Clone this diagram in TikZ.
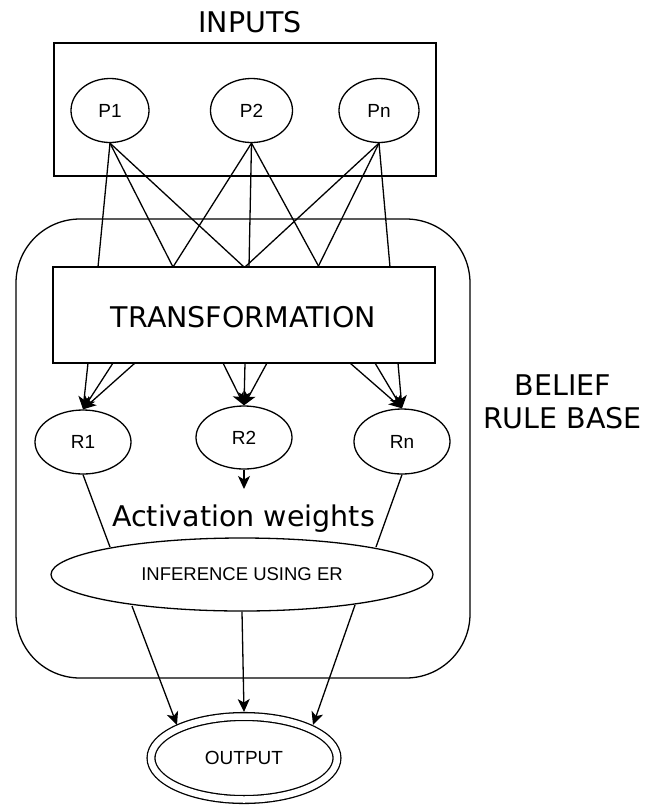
\documentclass[tikz,border=0pt]{standalone}
\usepackage{fontspec}
\setmainfont{Liberation Sans}
\newfontfamily\vfont{DejaVu Sans}
\usetikzlibrary{arrows.meta,shapes.geometric}
\begin{document}
\begin{tikzpicture}[x=1pt,y=-1pt,line width=1.3pt,
  ell/.style={draw,ellipse,inner sep=0pt,font=\fontsize{19}{21}\selectfont},
  box/.style={draw,rectangle,inner sep=0pt},
  bigtxt/.style={font=\vfont\fontsize{28.5}{33}\selectfont,inner sep=0pt,anchor=base},
  arr/.style={-{Stealth[length=13pt,width=12pt,inset=3.5pt]}}]
\useasboundingbox (0,0) rectangle (647,807);

% containers
\node[box,minimum width=382pt,minimum height=133pt] (IN) at (245,109.5) {};
\node[draw,rounded corners=64pt,minimum width=454pt,minimum height=459pt] (RBB) at (243,448.5) {};
\node[box,minimum width=382pt,minimum height=96pt] (T) at (244,315) {};

% texts
\node[bigtxt] (tin) at (250,32) {INPUTS};
\node[bigtxt] (tt) at (243.5,327) {TRANSFORMATION};
\node[bigtxt] (tb1) at (563,395) {BELIEF};
\node[bigtxt] (tb2) at (562.5,428) {RULE BASE};
\node[bigtxt] (ta) at (243.5,526) {Activation weights};

% input ellipses
\node[ell,minimum width=78pt,minimum height=64pt] (P1) at (110,110.5) {P1};
\node[ell,minimum width=82pt,minimum height=64pt] (P2) at (251.5,110.5) {P2};
\node[ell,minimum width=80pt,minimum height=64pt] (Pn) at (379,110.5) {Pn};

% rule ellipses
\node[ell,minimum width=96pt,minimum height=64pt] (R1) at (83,442) {R1};
\node[ell,minimum width=96pt,minimum height=63pt] (R2) at (244,437.5) {R2};
\node[ell,minimum width=96pt,minimum height=65pt] (Rn) at (402,441.5) {Rn};

% inference and output
\node[draw,ellipse,inner sep=0pt,minimum width=382pt,minimum height=73pt,
      font=\fontsize{18.5}{20}\selectfont] (INF) at (242,574.5) {INFERENCE USING ER};
\node[draw,ellipse,inner sep=0pt,double,double distance=6.5pt,
      minimum width=186pt,minimum height=83pt,
      font=\fontsize{19}{21}\selectfont] (OUT) at (244,758) {OUTPUT};

% coordinates on transformation top
\coordinate (a1) at (98,267);  \coordinate (a2) at (173,267); \coordinate (a3) at (244,267);
\coordinate (b1) at (173,267); \coordinate (b2) at (249,267); \coordinate (b3) at (319,267);
\coordinate (c1) at (245,267); \coordinate (c2) at (318,267); \coordinate (c3) at (390,267);
% coordinates on transformation bottom
\coordinate (d1) at (88,363);  \coordinate (d2) at (113,363); \coordinate (d3) at (135,363);
\coordinate (e1) at (223,363); \coordinate (e2) at (245,363); \coordinate (e3) at (267,363);
\coordinate (f1) at (350,363); \coordinate (f2) at (375,363); \coordinate (f3) at (398,363);
% others
\coordinate (g1) at (110,547); \coordinate (g2) at (376,547);
\coordinate (h) at (244,489);
\coordinate (i1) at (132,606); \coordinate (i3) at (355,605);
\coordinate (o1) at (177,725); \coordinate (o2) at (244,712); \coordinate (o3) at (313,725);

% input -> transformation
\foreach \t in {a1,a2,a3} \draw (P1.south) -- (\t);
\foreach \t in {b1,b2,b3} \draw (P2.south) -- (\t);
\foreach \t in {c1,c2,c3} \draw (Pn.south) -- (\t);

% transformation -> rules
\foreach \s in {d1,d2,d3} \draw[arr] (\s) -- (R1.north);
\foreach \s in {e1,e2,e3} \draw[arr] (\s) -- (R2.north);
\foreach \s in {f1,f2,f3} \draw[arr] (\s) -- (Rn.north);

% rules -> inference
\draw (R1.south) -- (g1);
\draw (Rn.south) -- (g2);
\draw[arr] (R2.south) -- (h);

% inference -> output
\draw[arr] (i1) -- (o1);
\draw[arr] (INF.south) -- (o2);
\draw[arr] (i3) -- (o3);
\end{tikzpicture}
\end{document}
